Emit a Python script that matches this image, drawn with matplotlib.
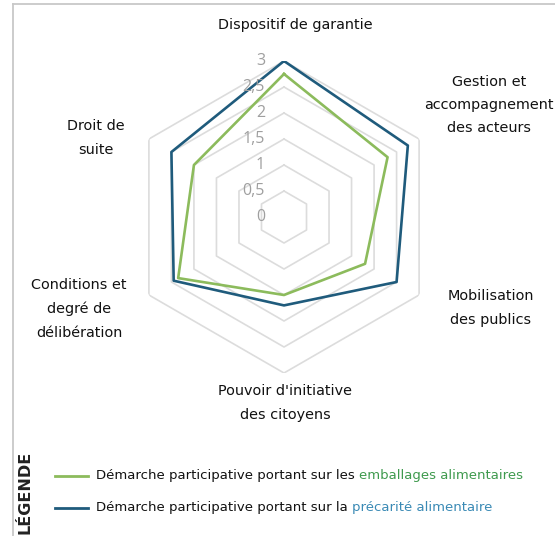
import numpy as np
import matplotlib
matplotlib.use("Agg")
import matplotlib.pyplot as plt
from matplotlib.lines import Line2D

# ---- data ----
categories = ["Dispositif de garantie", "Gestion et\naccompagnement\ndes acteurs",
              "Mobilisation\ndes publics", "Pouvoir d'initiative\ndes citoyens",
              "Conditions et\ndegré de\ndélibération", "Droit de\nsuite"]
emballages = [2.75, 2.3, 1.8, 1.5, 2.35, 2.0]
precarite = [3.0, 2.75, 2.5, 1.7, 2.45, 2.5]
tick_values = [0, 0.5, 1, 1.5, 2, 2.5, 3]
tick_labels = ["0", "0,5", "1", "1,5", "2", "2,5", "3"]

GREEN = "#8cbb5c"
BLUE = "#1f5b7c"
GRID = "#dcdcdc"
W, H = 555, 536
FONT = "DejaVu Sans"

fig = plt.figure(figsize=(W / 100, H / 100), dpi=100)
fig.patch.set_facecolor("white")

def fx(px):
    return px / W

def fy(py):
    return 1 - py / H

# polar axes: center (284, 217) px, radius 156 px
cx, cy, R = 284, 217, 156
ax = fig.add_axes([fx(cx - R), fy(cy + R), 2 * R / W, 2 * R / H], projection="polar")
ax.set_theta_offset(np.pi / 2)
ax.set_theta_direction(-1)
ax.set_ylim(0, 3)
ax.axis("off")

n = len(categories)
angles = np.linspace(0, 2 * np.pi, n, endpoint=False)
ang_closed = np.concatenate([angles, angles[:1]])

for lv in tick_values[1:]:
    ax.plot(ang_closed, [lv] * (n + 1), color=GRID, lw=1.2, zorder=1)

ax.plot(ang_closed, emballages + emballages[:1], color=GREEN, lw=1.9, zorder=3)
ax.plot(ang_closed, precarite + precarite[:1], color=BLUE, lw=1.9, zorder=4)

# tick labels along the top axis
for v, lab in zip(tick_values, tick_labels):
    y = cy - v / 3 * R
    fig.text(fx(265), fy(y), lab, ha="right", va="center", fontsize=11.5,
             color="#9f9f9f", family="Open Sans")

# category labels
label_pos = [(295, 25), (489, 105), (491, 308), (285, 403), (79, 309), (96, 138)]
for lab, (px, py) in zip(categories, label_pos):
    fig.text(fx(px), fy(py), lab, ha="center", va="center", fontsize=10.4,
             color="#111111", family=FONT, linespacing=1.85)

# frame lines
fig.add_artist(Line2D([fx(13), fx(13)], [fy(4), 0], color="#c8c8c8", lw=1.3))
fig.add_artist(Line2D([fx(13), 1], [fy(4), fy(4)], color="#c8c8c8", lw=1.3))

# legend
fig.text(fx(25), fy(492), "LÉGENDE", rotation=90, ha="center", va="center",
         fontsize=11.5, fontweight="bold", color="#222222", family=FONT)
legend_rows = [
    (476, GREEN, "Démarche participative portant sur les ", "emballages alimentaires", "#3f9a4e"),
    (508, BLUE, "Démarche participative portant sur la ", "précarité alimentaire", "#3a8ab5"),
]
fig.canvas.draw()
renderer = fig.canvas.get_renderer()
for py, col, t1, t2, c2 in legend_rows:
    fig.add_artist(Line2D([fx(55), fx(88)], [fy(py), fy(py)], color=col, lw=2.0))
    a = fig.text(fx(96), fy(py), t1, ha="left", va="center", fontsize=9.5,
                 color="#111111", family=FONT)
    bb = a.get_window_extent(renderer)
    fig.text(bb.x1 / W, fy(py), t2, ha="left", va="center", fontsize=9.5,
             color=c2, family=FONT)

fig.savefig("out.png", dpi=100, facecolor="white")
